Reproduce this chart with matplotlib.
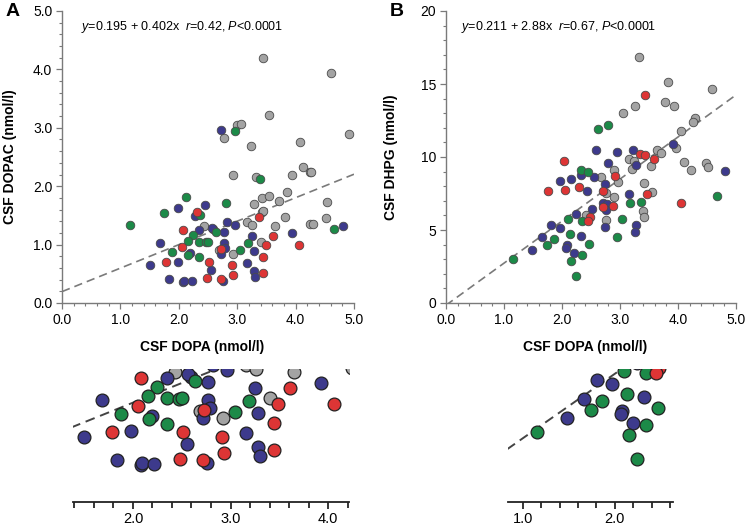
import matplotlib
matplotlib.use("Agg")
import matplotlib.pyplot as plt
from matplotlib.ticker import MultipleLocator
import numpy as np

plt.rcParams["font.family"] = ["Liberation Sans", "DejaVu Sans"]
plt.rcParams["mathtext.fontset"] = "custom"
plt.rcParams["mathtext.rm"] = "Liberation Sans"
plt.rcParams["mathtext.it"] = "Liberation Sans:italic"

# %% data, panel A: CSF DOPA vs CSF DOPAC
a_gray_x = [3.45, 4.61, 3.55, 2.99, 3.06, 2.77, 4.92, 3.24, 4.08, 4.12, 4.25, 4.27, 3.94, 2.93, 3.33,
            3.85, 3.28, 3.43, 3.55, 3.72, 4.53, 3.43, 3.44, 3.81, 3.16, 3.26, 3.65, 4.25, 4.30, 4.52,
            2.43, 2.69, 2.92, 3.41]
a_gray_y = [4.19, 3.93, 3.22, 3.05, 3.06, 2.82, 2.89, 2.68, 2.76, 2.33, 2.24, 2.24, 2.19, 2.20, 2.15,
            1.90, 1.69, 1.79, 1.84, 1.75, 1.73, 1.55, 1.57, 1.48, 1.38, 1.34, 1.31, 1.35, 1.35, 1.45,
            1.31, 0.91, 0.84, 1.05]
a_blue_x = [2.73, 4.82, 3.93, 2.96, 2.82, 2.35, 2.59, 2.56, 2.77, 1.98, 2.45, 2.27, 1.68, 2.19, 1.98,
            1.50, 2.55, 2.77, 2.79, 2.72, 3.25, 3.28, 3.16, 3.28, 3.30, 2.76, 1.84, 2.08, 2.09, 2.22]
a_blue_y = [2.97, 1.32, 1.20, 1.33, 1.38, 1.25, 1.26, 1.29, 1.21, 1.62, 1.68, 1.49, 1.03, 0.86, 0.71,
            0.65, 0.57, 1.03, 0.94, 0.84, 1.15, 0.89, 0.69, 0.54, 0.45, 0.38, 0.41, 0.36, 0.38, 0.37]
a_green_x = [2.96, 3.39, 2.12, 1.16, 1.75, 2.81, 2.36, 4.66, 2.64, 2.25, 2.15, 2.35, 2.47, 2.50,
             1.88, 2.16, 2.35, 3.05, 3.19]
a_green_y = [2.95, 2.13, 1.81, 1.34, 1.54, 1.72, 1.51, 1.26, 1.22, 1.16, 1.07, 1.05, 1.04, 1.05,
             0.88, 0.83, 0.78, 0.90, 1.02]
a_red_x = [2.32, 3.37, 4.06, 2.08, 2.05, 1.78, 2.51, 2.73, 3.61, 3.49, 3.45, 2.91, 3.45, 2.93, 2.72, 2.48]
a_red_y = [1.56, 1.47, 0.99, 1.25, 0.96, 0.70, 0.70, 0.92, 1.15, 0.99, 0.79, 0.65, 0.51, 0.48, 0.41, 0.42]

# %% data, panel B: CSF DOPA vs CSF DHPG
b_gray_x = [3.32, 3.83, 4.58, 3.78, 3.93, 3.26, 3.05, 4.29, 4.25, 4.06, 3.97, 3.63, 3.71, 3.16, 3.24,
            3.53, 3.21, 4.10, 4.49, 4.52, 4.23, 2.90, 2.97, 2.67, 3.42, 3.55, 2.76, 2.90, 2.41, 3.39,
            3.41, 2.76]
b_gray_y = [16.87, 15.16, 14.64, 13.79, 13.51, 13.49, 13.03, 12.65, 12.38, 11.80, 10.60, 10.50, 10.27,
            9.85, 9.74, 9.41, 9.18, 9.66, 9.56, 9.31, 9.10, 9.10, 8.31, 8.65, 8.20, 7.58, 7.55, 7.28,
            6.03, 6.32, 5.87, 5.68]
b_blue_x = [3.92, 2.59, 2.94, 3.23, 3.28, 2.80, 4.81, 1.97, 2.16, 2.32, 2.56, 2.74, 2.43, 3.15, 2.70,
            2.78, 2.76, 2.51, 2.24, 1.81, 1.97, 2.74, 3.27, 3.26, 1.66, 2.32, 2.08, 2.07, 1.48, 2.20]
b_blue_y = [10.89, 10.45, 10.32, 10.50, 9.45, 9.62, 9.05, 8.36, 8.49, 8.77, 8.65, 8.15, 7.67, 7.47,
            6.83, 6.78, 6.37, 6.42, 6.10, 5.34, 5.16, 5.23, 5.34, 4.88, 4.50, 4.58, 3.95, 3.80, 3.62, 3.42]
b_green_x = [2.62, 2.79, 2.32, 2.44, 4.67, 3.17, 3.37, 2.34, 2.10, 3.04, 2.13, 2.94, 1.86, 2.47, 1.74,
             2.34, 1.15, 2.15, 2.24]
b_green_y = [11.90, 12.16, 9.11, 8.99, 7.33, 6.87, 6.94, 5.64, 5.73, 5.73, 4.72, 4.50, 4.38, 4.07,
             3.98, 3.31, 3.00, 2.87, 1.82]
b_red_x = [3.43, 3.35, 3.43, 3.59, 2.03, 2.91, 1.75, 2.06, 2.30, 2.71, 3.47, 4.05, 2.71, 2.88, 2.48, 2.45]
b_red_y = [14.25, 10.21, 10.12, 9.86, 9.75, 8.70, 7.67, 7.74, 7.92, 7.67, 7.47, 6.83, 6.55, 6.66, 5.87, 5.64]

# dashed fit lines as drawn (intercept, slope)
a_fit = (0.195, 0.402)
b_fit = (-0.15, 2.88)
a_text = r"$y$=0.195 + 0.402x  $r$=0.42, $P$<0.0001"
b_text = r"$y$=0.211 + 2.88x  $r$=0.67, $P$<0.0001"

colors = {"gray": "#a3a3a3", "blue": "#3d3a8c", "green": "#1c8a48", "red": "#dd3535"}
a_groups = [("gray", a_gray_x, a_gray_y), ("blue", a_blue_x, a_blue_y),
            ("green", a_green_x, a_green_y), ("red", a_red_x, a_red_y)]
b_groups = [("gray", b_gray_x, b_gray_y), ("blue", b_blue_x, b_blue_y),
            ("green", b_green_x, b_green_y), ("red", b_red_x, b_red_y)]


def draw_points(ax, groups, fit, size, edge, lw, line_col, line_w):
    for name, xs, ys in groups:
        ax.scatter(xs, ys, s=size, color=colors[name], edgecolor=edge, linewidth=lw, zorder=3)
    xx = np.array([0.0, 5.0])
    ax.plot(xx, fit[0] + fit[1] * xx, ls=(0, (5, 3)), color=line_col, lw=line_w, zorder=2)


fig = plt.figure(figsize=(7.47, 5.28), dpi=100)
W, H = 747.0, 528.0


def box(l, r, t, b):
    return [l / W, 1 - b / H, (r - l) / W, (b - t) / H]


spine_col = "#7a7a7a"


def main_panel(rect, groups, fit, ylim, ymaj, ymin, yfmt, ylabel, eq, eqx, letter, lab_x):
    ax = fig.add_axes(rect)
    draw_points(ax, groups, fit, 38, "#4a4a4a", 0.6, "#7a7a7a", 1.2)
    ax.set_xlim(0, 5)
    ax.set_ylim(*ylim)
    for s in ["top", "right"]:
        ax.spines[s].set_visible(False)
    for s in ["left", "bottom"]:
        ax.spines[s].set_color(spine_col)
        ax.spines[s].set_linewidth(1.0)
    ax.xaxis.set_major_locator(MultipleLocator(1.0))
    ax.xaxis.set_minor_locator(MultipleLocator(0.2))
    ax.yaxis.set_major_locator(MultipleLocator(ymaj))
    ax.yaxis.set_minor_locator(MultipleLocator(ymin))
    ax.xaxis.set_major_formatter(lambda v, p: f"{v:.1f}")
    ax.yaxis.set_major_formatter(lambda v, p: yfmt.format(v))
    ax.tick_params(which="major", length=4, width=0.9, color=spine_col, labelsize=10, pad=3)
    ax.tick_params(which="minor", length=2.5, width=0.8, color=spine_col)
    ax.set_xlabel("CSF DOPA (nmol/l)", fontsize=10, fontweight="bold")
    ax.set_ylabel(ylabel, fontsize=10, fontweight="bold")
    ax.xaxis.set_label_coords(0.48, -0.125)
    ax.yaxis.set_label_coords(lab_x, 0.5)
    ax.text(eqx, 0.945, eq, transform=ax.transAxes, fontsize=9, va="center")
    ax.text(-0.195, 1.0, letter, transform=ax.transAxes, fontsize=14, fontweight="bold", va="center")
    return ax


main_panel(box(62, 354, 11, 303), a_groups, a_fit, (0, 5), 1.0, 0.2, "{:.1f}",
           "CSF DOPAC (nmol/l)", a_text, 0.065, "A", -0.155)
main_panel(box(446, 736, 11, 303), b_groups, b_fit, (0, 20), 5, 1, "{:.0f}",
           "CSF DHPG (nmol/l)", b_text, 0.052, "B", -0.165)


def zoom_panel(rect, groups, fit, xlim, ylim, majors):
    ax = fig.add_axes(rect)
    draw_points(ax, groups, fit, 85, "#222222", 0.9, "#444444", 1.4)
    ax.set_xlim(*xlim)
    ax.set_ylim(*ylim)
    for s in ["top", "right", "left"]:
        ax.spines[s].set_visible(False)
    ax.spines["bottom"].set_linewidth(1.3)
    ax.spines["bottom"].set_color("#222222")
    ax.set_yticks([])
    ax.set_xticks(majors)
    ax.xaxis.set_minor_locator(MultipleLocator(0.2))
    ax.xaxis.set_major_formatter(lambda v, p: f"{v:.1f}")
    ax.tick_params(which="major", length=5, width=1.1, labelsize=10.5, pad=2)
    ax.tick_params(which="minor", length=4, width=1.1)
    return ax


zoom_panel(box(73, 349, 369, 502), a_groups, a_fit, (1.385, 4.215), (-0.02, 1.344), [2.0, 3.0, 4.0])
zoom_panel(box(508, 673, 369, 502), b_groups, b_fit, (0.84, 2.63), (-0.11, 5.82), [1.0, 2.0])

plt.savefig("out.png", dpi=100)
